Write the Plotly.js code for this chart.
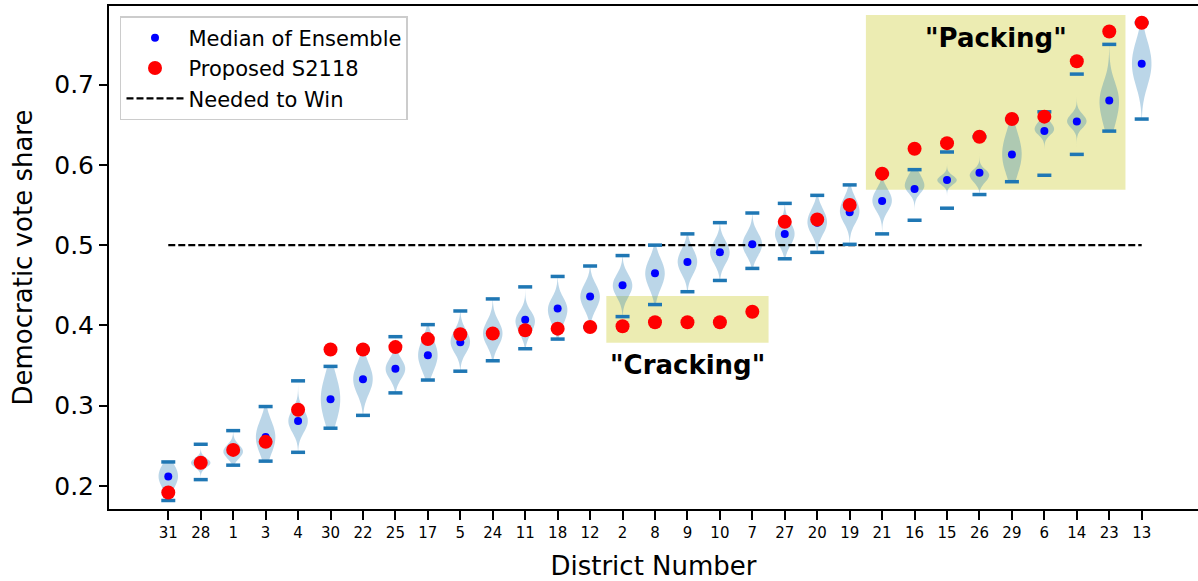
<!DOCTYPE html>
<html>
<head>
<meta charset="utf-8">
<script src="https://cdn.plot.ly/plotly-3.0.1.min.js"></script>
<style>html,body{margin:0;padding:0;background:#fff;}#chart{width:1198px;height:581px;}</style>
</head>
<body>
<div id="chart"></div>
<script>
// District order (sorted by ensemble median)
const districts = ['31','28','1','3','4','30','22','25','17','5','24','11','18','12','2','8','9','10','7','27','20','19','21','16','15','26','29','6','14','23','13'];
// Median Democratic vote share of the ensemble
const medianShare = [0.212,0.229,0.243,0.261,0.281,0.308,0.333,0.346,0.363,0.379,0.390,0.407,0.421,0.436,0.450,0.465,0.479,0.491,0.501,0.514,0.528,0.541,0.555,0.570,0.581,0.590,0.613,0.642,0.654,0.680,0.726];
// Proposed plan S2118
const proposedS2118 = [0.192,0.229,0.245,0.255,0.295,0.370,0.370,0.373,0.383,0.389,0.390,0.394,0.396,0.398,0.399,0.404,0.404,0.404,0.417,0.529,0.532,0.550,0.589,0.620,0.627,0.635,0.657,0.660,0.729,0.766,0.777];
// Ensemble extremes (min / max bars)
const ensembleMin = [0.182,0.208,0.226,0.231,0.242,0.272,0.288,0.316,0.332,0.343,0.356,0.371,0.383,0.398,0.411,0.426,0.442,0.456,0.471,0.483,0.491,0.501,0.514,0.531,0.546,0.563,0.579,0.587,0.613,0.642,0.657];
const ensembleMax = [0.230,0.252,0.269,0.299,0.331,0.349,0.370,0.386,0.401,0.418,0.433,0.448,0.461,0.474,0.487,0.500,0.514,0.528,0.540,0.552,0.562,0.575,0.589,0.594,0.616,0.635,0.657,0.666,0.713,0.750,0.777];
// Bulk of each ensemble distribution (where the violin is wide)
const bulkLow  = [0.203,0.226,0.238,0.247,0.272,0.290,0.322,0.338,0.350,0.372,0.380,0.393,0.405,0.425,0.440,0.452,0.470,0.482,0.492,0.505,0.520,0.535,0.548,0.574,0.578,0.580,0.598,0.643,0.650,0.655,0.708];
const bulkHigh = [0.222,0.232,0.248,0.274,0.290,0.328,0.347,0.354,0.375,0.390,0.400,0.410,0.426,0.445,0.458,0.476,0.490,0.500,0.510,0.523,0.540,0.555,0.565,0.586,0.584,0.588,0.632,0.652,0.660,0.690,0.745];
const winThreshold = 0.5;
const yTicks = [0.2,0.3,0.4,0.5,0.6,0.7];

const FONT = 'DejaVu Sans, Liberation Sans, sans-serif';
const traces = [];

districts.forEach((d, i) => {
  traces.push({
    type: 'violin',
    x: [d, d, d],
    y: [bulkLow[i], medianShare[i], bulkHigh[i]],
    spanmode: 'manual',
    span: [ensembleMin[i], ensembleMax[i]],
    bandwidth: (bulkHigh[i] - bulkLow[i]) * 0.5 + 0.002,
    width: 0.6,
    scalemode: 'width',
    points: false,
    box: {visible: false},
    meanline: {visible: false},
    fillcolor: 'rgba(31,119,180,0.3)',
    line: {width: 0, color: 'rgba(31,119,180,0)'},
    showlegend: false,
    hoverinfo: 'skip'
  });
});

traces.push({
  type: 'scatter', mode: 'lines',
  x: [districts[0], districts[districts.length - 1]],
  y: [winThreshold, winThreshold],
  line: {color: 'black', width: 2.2, dash: '7px,3px'},
  name: 'Needed to Win', legendrank: 3, legendgroup: 'c'
});
traces.push({
  type: 'scatter', mode: 'markers', x: districts, y: ensembleMin,
  marker: {symbol: 'line-ew', size: 10, line: {width: 3.5, color: '#1f77b4'}},
  showlegend: false, hoverinfo: 'skip'
});
traces.push({
  type: 'scatter', mode: 'markers', x: districts, y: ensembleMax,
  marker: {symbol: 'line-ew', size: 10, line: {width: 3.5, color: '#1f77b4'}},
  showlegend: false, hoverinfo: 'skip'
});
traces.push({
  type: 'scatter', mode: 'markers', x: districts, y: medianShare,
  marker: {color: 'blue', size: 8},
  name: 'Median of Ensemble', legendrank: 1, legendgroup: 'a'
});
traces.push({
  type: 'scatter', mode: 'markers', x: districts, y: proposedS2118,
  marker: {color: 'red', size: 14},
  name: 'Proposed S2118', legendrank: 2, legendgroup: 'b'
});

const layout = {
  width: 1198, height: 581,
  margin: {l: 109, r: 0, t: 6, b: 72},
  paper_bgcolor: 'white', plot_bgcolor: 'white',
  font: {family: FONT, color: 'black'},
  violinmode: 'overlay',
  showlegend: true,
  legend: {
    x: 0.0101, y: 0.98, xanchor: 'left', yanchor: 'top',
    bgcolor: 'rgba(255,255,255,0.8)', bordercolor: '#cccccc', borderwidth: 1.5,
    font: {family: FONT, size: 21, color: 'black'},
    itemwidth: 57, tracegroupgap: 3, traceorder: 'normal'
  },
  xaxis: {
    type: 'category', categoryorder: 'array', categoryarray: districts,
    range: [-1.827, 31.735],
    showgrid: false, zeroline: false,
    showline: true, linecolor: 'black', linewidth: 2, mirror: true,
    ticks: 'outside', ticklen: 9, tickwidth: 2, tickcolor: 'black',
    tickfont: {family: FONT, size: 15, color: 'black'},
    title: {text: 'District Number', font: {family: FONT, size: 26, color: 'black'}, standoff: 16}
  },
  yaxis: {
    range: [0.1714, 0.7978],
    tickvals: yTicks, ticktext: yTicks.map(v => v.toFixed(1)),
    showgrid: false, zeroline: false,
    showline: true, linecolor: 'black', linewidth: 2, mirror: false,
    ticks: 'outside', ticklen: 8, tickwidth: 2, tickcolor: 'black',
    tickfont: {family: FONT, size: 25, color: 'black'},
    title: {text: 'Democratic vote share', font: {family: FONT, size: 26, color: 'black'}, standoff: 14}
  },
  shapes: [
    {type: 'rect', xref: 'x', yref: 'y', x0: 13.5, x1: 18.5, y0: 0.3785, y1: 0.4366,
     fillcolor: 'rgba(191,191,0,0.3)', line: {width: 0}, layer: 'below'},
    {type: 'rect', xref: 'x', yref: 'y', x0: 21.5, x1: 29.5, y0: 0.569, y1: 0.7866,
     fillcolor: 'rgba(191,191,0,0.3)', line: {width: 0}, layer: 'below'}
  ],
  annotations: [
    {x: 16, y: 0.3507, xref: 'x', yref: 'y', text: '"Cracking"', showarrow: false,
     font: {family: FONT, size: 26, color: 'black', weight: 'bold'}},
    {x: 25.5, y: 0.758, xref: 'x', yref: 'y', text: '"Packing"', showarrow: false,
     font: {family: FONT, size: 26, color: 'black', weight: 'bold'}}
  ]
};

Plotly.newPlot('chart', traces, layout, {displayModeBar: false, staticPlot: true});
</script>
</body>
</html>
